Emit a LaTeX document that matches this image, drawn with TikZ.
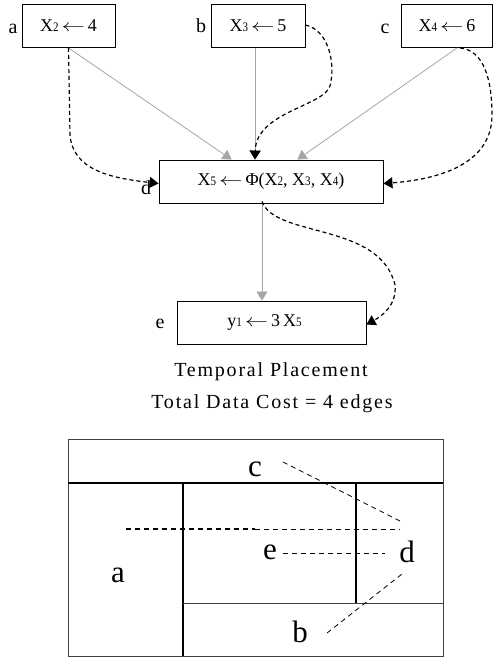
\documentclass[tikz,border=0pt]{standalone}
\usepackage{fontspec}
\setmainfont{Liberation Serif}
\newfontfamily\heavycap{Liberation Serif}[LetterSpace=9]
\usetikzlibrary{arrows.meta}
\newcommand\Sd[1]{{\fontsize{13}{13}\selectfont\scalebox{0.85}[1]{#1}}}
\newcommand\Xsub[1]{X\Sd{#1}}
\newcommand\LArr{\,\scalebox{1.35}[1]{$\leftarrow$}\,}
\begin{document}
\begin{tikzpicture}[x=1pt,y=-1pt,
  box/.style={draw=black, line width=0.9pt, minimum height=43pt, inner sep=0pt, font=\fontsize{18}{18}\selectfont},
  gline/.style={draw=black!35, line width=0.8pt, -{Triangle[length=9pt,width=11pt]}},
  dline/.style={draw=black, line width=1.2pt, dash pattern=on 4pt off 3pt, -{Triangle[length=9pt,width=11pt]}},
  lab/.style={font=\fontsize{20}{20}\selectfont, inner sep=0pt},
  big/.style={font=\fontsize{31}{31}\selectfont, inner sep=0pt},
  capt/.style={font=\heavycap\fontsize{20}{20}\selectfont, inner sep=0pt},
  frame/.style={draw=black!75, line width=1pt},
  thick line/.style={draw=black, line width=2pt},
  fdash/.style={draw=black, line width=0.8pt, dash pattern=on 5pt off 4pt},
]
\useasboundingbox (0,0) rectangle (493,658);

% top boxes
\node[box, minimum width=93pt] (A) at (68.5,26) {\Xsub{2}\LArr 4};
\node[lab] (la) at (13,29) {a};
\node[box, minimum width=94pt] (B) at (258,26) {\Xsub{3}\LArr 5};
\node[lab] (lb) at (201,26) {b};
\node[box, minimum width=91pt] (C) at (447,26) {\Xsub{4}\LArr 6};
\node[lab] (lc) at (385,29) {c};

\node[box, minimum width=224pt] (D) at (271,181.5) {\Xsub{5}\LArr Φ(\Xsub{2}, \Xsub{3}, \Xsub{4})};
\node[lab] (ld) at (146,188) {d};
\node[box, minimum width=189pt] (E) at (271.5,322.5) {\hspace*{-14pt}y\Sd{1}\LArr 3\,\Xsub{5}};
\node[lab] (le) at (160,324) {e};

% gray arrows
\coordinate (bs) at ([xshift=-3pt]B.south);
\coordinate (dsb) at ([xshift=-9pt]D.south);
\draw[gline] (A.south) -- ([xshift=73pt]D.north west);
\draw[gline] (bs) -- (bs |- D.north);
\draw[gline] ([xshift=10pt]C.south) -- ([xshift=-86pt]D.north east);
\draw[gline] (dsb) -- (dsb |- E.north);

% dashed arrows
\draw[dline] (A.south) -- (70,135) .. controls (73,170) and (110,178) .. ([yshift=-2pt]D.west);
\draw[dline] ([yshift=1pt]B.east) .. controls (328,30) and (336,62) .. (330,86)
  .. controls (324,106) and (256,112) .. (bs |- D.north);
\draw[dline] ([xshift=13pt]C.south) .. controls (484,50) and (492,80) .. (492,115)
  .. controls (492,168) and (430,180) .. ([yshift=-2pt]D.east);
\draw[dline] ([yshift=2pt]dsb) .. controls (275,238) and (380,222) .. (395,285)
  .. controls (397,305) and (382,316) .. ([yshift=-2pt]E.east);

% captions
\node[capt] (t1) at (271,372) {Temporal Placement};
\node[capt] (t2) at (272,404) {Total Data Cost = 4 edges};

% bottom layout
\draw[frame] (68,439) rectangle (443,656);
\draw[draw=black, line width=1.5pt] (68,483) -- (443,483);
\draw[thick line] (183,483) -- (183,656);
\draw[thick line] (356,483) -- (356,603);
\draw[frame] (183,603) -- (443,603);

\node[big] (bc) at (255,469) {c};
\node[big] (be) at (270,552) {e};
\node[big] (bd) at (407,552) {d};
\node[big] (ba) at (118,575) {a};
\node[big] (bb) at (300,632) {b};

\coordinate (c1) at (283,462);
\coordinate (c2) at (402,522);
\coordinate (h1) at (126,529);
\coordinate (h2) at (255,529);
\coordinate (h3) at (400,529);
\coordinate (e1) at (283,553);
\coordinate (e2) at (385,553);
\coordinate (b1) at (327,633);
\coordinate (b2) at (402,574);
\draw[fdash] (c1) -- (c2);
\draw[fdash, line width=1.4pt] (h1) -- (h2);
\draw[fdash] (h2) -- (h3);
\draw[fdash] (e1) -- (e2);
\draw[fdash] (b1) -- (b2);
\end{tikzpicture}
\end{document}
